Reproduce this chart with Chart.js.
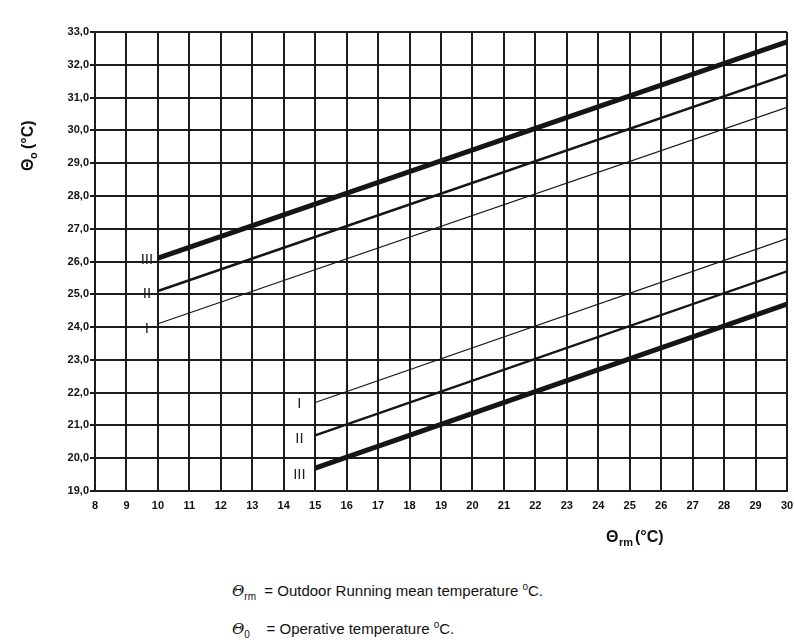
<!DOCTYPE html>
<html>
<head>
<meta charset="utf-8">
<script src="https://cdn.jsdelivr.net/npm/chart.js@4.4.0/dist/chart.umd.min.js"></script>
<style>
  body { margin: 0; background: #fff; font-family: "Liberation Sans", Arial, sans-serif; }
  #wrap { position: relative; width: 794px; height: 560px; }
  .note { position: absolute; left: 232px; font-size: 15px; color: #111; }
  .note i { font-family: "DejaVu Serif", serif; }
  sub { font-size: 10px; }
</style>
</head>
<body>
<div id="wrap"><canvas id="chart" width="794" height="560"></canvas></div>
<div class="note" style="top:581px"><i>&Theta;</i><sub>rm</sub>&nbsp; = Outdoor Running mean temperature <sup style="font-size:10px">o</sup>C.</div>
<div class="note" style="top:619px"><i>&Theta;</i><sub>0</sub>&nbsp;&nbsp;&nbsp; = Operative temperature <sup style="font-size:10px">o</sup>C.</div>
<script>
// outdoor running mean temperature (x) and operative temperature limits (y)
const upperX = [10, 30];
const upperI = [24.1, 30.7];
const upperII = [25.1, 31.7];
const upperIII = [26.1, 32.7];

const lowerX = [15, 30];
const lowerI = [21.7, 26.7];
const lowerII = [20.7, 25.7];
const lowerIII = [19.7, 24.7];

// category labels and where they sit
const labelText = ['III', 'II', 'I', 'I', 'II', 'III'];
const labelX = [9.65, 9.65, 9.65, 14.5, 14.5, 14.5];
const labelY = [26.05, 25.0, 23.95, 21.65, 20.6, 19.5];

function pts(xs, ys) {
  return xs.map((x, i) => ({ x: x, y: ys[i] }));
}

const labelsPlugin = {
  id: 'labels',
  afterDraw(chart) {
    const ctx = chart.ctx;
    const xs = chart.scales.x, ys = chart.scales.y;
    ctx.save();
    ctx.fillStyle = '#222';
    ctx.font = '15px "Liberation Sans Narrow", "Liberation Sans", sans-serif';
    ctx.textAlign = 'center';
    ctx.textBaseline = 'middle';
    labelText.forEach((t, i) => {
      ctx.fillText(t, xs.getPixelForValue(labelX[i]), ys.getPixelForValue(labelY[i]));
    });

    // x axis title
    ctx.fillStyle = '#111';
    ctx.textAlign = 'left';
    ctx.textBaseline = 'alphabetic';
    ctx.font = 'bold 16px "Liberation Sans", sans-serif';
    ctx.fillText('\u0398', 606, 542);
    ctx.font = 'bold 11px "Liberation Sans", sans-serif';
    ctx.fillText('rm', 619, 546);
    ctx.font = 'bold 16px "Liberation Sans", sans-serif';
    ctx.fillText('(\u00B0C)', 635, 542);

    // y axis title
    ctx.translate(33, 142);
    ctx.rotate(-Math.PI / 2);
    ctx.textAlign = 'left';
    ctx.font = 'bold 16px "Liberation Sans", sans-serif';
    ctx.fillText('\u0398', -29, 0);
    ctx.font = 'bold 11px "Liberation Sans", sans-serif';
    ctx.fillText('o', -17, 4);
    ctx.font = 'bold 16px "Liberation Sans", sans-serif';
    ctx.fillText('(\u00B0C)', -7, 0);
    ctx.restore();
  }
};

const line = (data, w) => ({
  data: data,
  borderColor: '#151515',
  borderWidth: w,
  pointRadius: 0,
  fill: false,
  showLine: true
});

new Chart(document.getElementById('chart'), {
  type: 'scatter',
  data: {
    datasets: [
      line(pts(upperX, upperIII), 5),
      line(pts(upperX, upperII), 2.4),
      line(pts(upperX, upperI), 1.2),
      line(pts(lowerX, lowerI), 1.2),
      line(pts(lowerX, lowerII), 2.4),
      line(pts(lowerX, lowerIII), 5)
    ]
  },
  options: {
    responsive: false,
    animation: false,
    layout: { padding: { top: 32, right: 0, left: 0, bottom: 0 } },
    plugins: { legend: { display: false }, tooltip: { enabled: false } },
    scales: {
      x: {
        type: 'linear',
        min: 8, max: 30,
        afterFit(scale) { scale.height = 69; scale.paddingRight = 7; },
        ticks: {
          stepSize: 1,
          color: '#111',
          padding: 8,
          font: { family: '"Liberation Sans", sans-serif', size: 11, weight: 'bold' }
        },
        grid: { color: '#1c1c1c', lineWidth: 2, tickLength: 0 },
        border: { color: '#1c1c1c', width: 2 }
      },
      y: {
        min: 19, max: 33,
        afterFit(scale) { scale.width = 95; },
        ticks: {
          stepSize: 1,
          color: '#111',
          padding: 1,
          font: { family: '"Liberation Sans", sans-serif', size: 11, weight: 'bold' },
          callback: v => v.toFixed(1).replace('.', ',')
        },
        grid: { color: '#1c1c1c', lineWidth: 2, tickLength: 5 },
        border: { color: '#1c1c1c', width: 2 }
      }
    }
  },
  plugins: [labelsPlugin]
});
</script>
</body>
</html>
